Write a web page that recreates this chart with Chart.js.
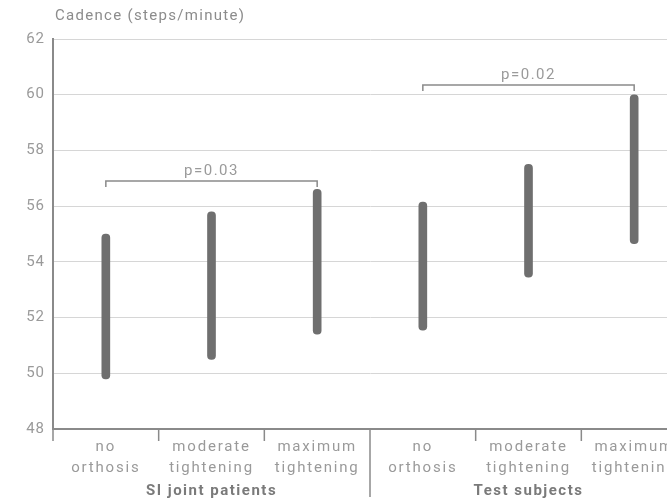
<!DOCTYPE html>
<html>
<head>
<meta charset="utf-8">
<script src="https://cdn.jsdelivr.net/npm/chart.js@4"></script>
<style>
html,body{margin:0;padding:0;background:#fff;overflow:hidden;}
#wrap{position:relative;width:700px;height:504px;}
</style>
</head>
<body>
<div id="wrap"><canvas id="c"></canvas></div>
<script>
const categories = [["no","orthosis"],["moderate","tightening"],["maximum","tightening"],["no","orthosis"],["moderate","tightening"],["maximum","tightening"]];
const lowValues  = [49.8, 50.5, 51.4, 51.55, 53.45, 54.65];
const highValues = [55.0, 55.8, 56.6, 56.15, 57.5, 60.0];
const groups = [{label:"SI joint patients", from:0, to:2},{label:"Test subjects", from:3, to:5}];
const brackets = [{from:0, to:2, level:56.9, text:"p=0.03"},{from:3, to:5, level:60.35, text:"p=0.02"}];
const yTicks = [48,50,52,54,56,58,60,62];
const yTitle = "Cadence (steps/minute)";

const FONT = "Roboto";
const TXT = "#9a9a9a";

function withSpacing(scale, sp){
  if(scale._spPatched) return;
  const orig = scale.drawLabels;
  scale.drawLabels = function(ca){
    const ctx = this.ctx;
    const prev = ctx.letterSpacing;
    ctx.letterSpacing = sp;
    orig.call(this, ca);
    ctx.letterSpacing = prev || "0px";
  };
  scale._spPatched = true;
}

const decor = {
  id:"decor",
  beforeDraw(chart){
    withSpacing(chart.scales.x, "1.8px");
    withSpacing(chart.scales.y, "1px");
  },
  afterDraw(chart){
    const {ctx, chartArea, scales:{x,y}} = chart;
    ctx.save();
    // title
    ctx.letterSpacing = "1.3px";
    ctx.fillStyle = "#8c8c8c";
    ctx.font = "15px " + FONT;
    ctx.textAlign = "left"; ctx.textBaseline = "middle";
    ctx.fillText(yTitle, 55, 16);
    // category separators
    ctx.strokeStyle = "#8a8a8a"; ctx.lineWidth = 1.5;
    for(let i=1;i<categories.length;i++){
      const xx = (x.getPixelForValue(i-1)+x.getPixelForValue(i))/2;
      const isGroup = groups.some(g=>g.from===i);
      ctx.beginPath();
      ctx.moveTo(xx, chartArea.bottom);
      ctx.lineTo(xx, chartArea.bottom + (isGroup?68:12));
      ctx.stroke();
    }
    // left axis extension
    ctx.beginPath(); ctx.moveTo(chartArea.left, chartArea.bottom); ctx.lineTo(chartArea.left, chartArea.bottom+12); ctx.stroke();
    // group labels
    ctx.letterSpacing = "1.5px";
    ctx.fillStyle = "#7a7a7a";
    ctx.font = "bold 15px " + FONT;
    ctx.textAlign = "center";
    groups.forEach(g=>{
      const cx = (x.getPixelForValue(g.from)+x.getPixelForValue(g.to))/2;
      ctx.fillText(g.label, cx, chartArea.bottom + 62);
    });
    // brackets
    ctx.strokeStyle = "#8a8a8a"; ctx.lineWidth = 1.5;
    ctx.font = "15px " + FONT; ctx.fillStyle = TXT; ctx.textBaseline = "alphabetic";
    brackets.forEach(b=>{
      const x1 = x.getPixelForValue(b.from), x2 = x.getPixelForValue(b.to);
      const yy = y.getPixelForValue(b.level);
      ctx.beginPath();
      ctx.moveTo(x1, yy+6); ctx.lineTo(x1, yy); ctx.lineTo(x2, yy); ctx.lineTo(x2, yy+6);
      ctx.stroke();
      ctx.fillText(b.text, (x1+x2)/2, yy-6);
    });
    ctx.restore();
  }
};

new Chart(document.getElementById("c"), {
  type:"bar",
  data:{
    labels: categories,
    datasets:[{
      data: lowValues.map((v,i)=>[v, highValues[i]]),
      backgroundColor:"#6f6f6f",
      barThickness:8,
      borderRadius:4,
      borderSkipped:false
    }]
  },
  options:{
    responsive:true, maintainAspectRatio:false, animation:false,
    layout:{padding:{top:39, right:13, left:0, bottom:0}},
    plugins:{legend:{display:false}, tooltip:{enabled:false}},
    scales:{
      x:{
        grid:{display:false, drawTicks:false},
        border:{display:true, color:"#8a8a8a", width:2},
        ticks:{color:TXT, font:{family:FONT, size:15, lineHeight:1.45}, padding:7, maxRotation:0, autoSkip:false},
        afterFit(s){ s.height = 75; }
      },
      y:{
        min:48, max:62,
        afterBuildTicks(s){ s.ticks = yTicks.map(v=>({value:v})); },
        grid:{color:"#d6d6d6", lineWidth:1, drawTicks:false},
        border:{display:true, color:"#8a8a8a", width:2},
        ticks:{color:TXT, font:{family:FONT, size:15}, padding:8},
        afterFit(s){ s.width = 53; }
      }
    }
  },
  plugins:[decor]
});
</script>
</body>
</html>
